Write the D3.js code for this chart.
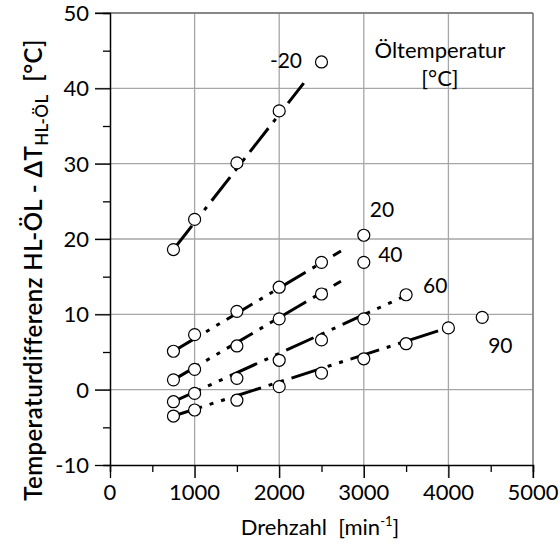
<!DOCTYPE html>
<html>
<head>
<meta charset="utf-8">
<script src="https://cdn.jsdelivr.net/npm/d3@7"></script>
<style>
  body { margin: 0; background: #fff; }
  svg text { font-family: Lato, "Open Sans", sans-serif; fill: #000; white-space: pre; }
</style>
</head>
<body>
<script>

// speeds [min^-1] at which the points were measured
const speeds = [750, 1000, 1500, 2000, 2500, 3000, 3500, 4000, 4400];

// oil temperatures [°C], one curve per temperature
const oilTemps = ["-20", "20", "40", "60", "90"];

// measured temperature difference per oil temperature (null = not measured)
const dT_m20 = [18.6, 22.6, 30.1, 37.0, 43.5, null, null, null, null];
const dT_20  = [5.1, 7.3, 10.4, 13.6, 16.9, 20.5, null, null, null];
const dT_40  = [1.3, 2.7, 5.8, 9.4, 12.7, 16.9, null, null, null];
const dT_60  = [-1.6, -0.5, 1.5, 3.9, 6.6, 9.4, 12.6, null, null];
const dT_90  = [-3.5, -2.7, -1.4, 0.4, 2.2, 4.1, 6.1, 8.2, 9.6];

// fitted lines: start and end point [speed, dT]
const fitStart = [[750, 18.6], [750, 5.1], [750, 1.3], [750, -1.6], [750, -3.5]];
const fitEnd   = [[2290, 40.7], [2730, 18.4], [2730, 14.4], [3460, 12.3], [4100, 8.6]];

// axis ticks
const xTicks = [0, 1000, 2000, 3000, 4000, 5000];
const yTicks = [-10, 0, 10, 20, 30, 40, 50];

const series = [dT_m20, dT_20, dT_40, dT_60, dT_90];

// dimensions
const WIDTH = 560;
const HEIGHT = 551;
const MARGIN = {top: 13, bottom: 86, left: 110, right: 27};

const SVG = d3.select('body')
              .append('svg')
              .attr('width', WIDTH)
              .attr('height', HEIGHT);

const xScale = d3.scaleLinear()
                 .domain([0, 5000])
                 .range([MARGIN.left, WIDTH - MARGIN.right]);

const yScale = d3.scaleLinear()
                 .domain([-10, 50])
                 .range([HEIGHT - MARGIN.bottom, MARGIN.top]);

const x0 = xScale(0), x1 = xScale(5000);
const y0 = yScale(-10), y1 = yScale(50);

// grid lines
SVG.append('g')
   .selectAll('line')
   .data(xTicks.slice(1))
   .enter()
   .append('line')
   .attr('x1', d => xScale(d))
   .attr('x2', d => xScale(d))
   .attr('y1', y1)
   .attr('y2', y0 + 13)
   .attr('stroke', '#a6a6a6')
   .attr('stroke-width', 1.3);

SVG.append('g')
   .selectAll('line')
   .data(yTicks.slice(1))
   .enter()
   .append('line')
   .attr('x1', x0 - 15)
   .attr('x2', x1)
   .attr('y1', d => yScale(d))
   .attr('y2', d => yScale(d))
   .attr('stroke', '#a6a6a6')
   .attr('stroke-width', 1.3);

// darker top and right frame
SVG.append('line')
   .attr('x1', x0 - 15).attr('x2', x1)
   .attr('y1', y1).attr('y2', y1)
   .attr('stroke', '#777').attr('stroke-width', 1.3);
SVG.append('line')
   .attr('x1', x1).attr('x2', x1)
   .attr('y1', y1).attr('y2', y0 + 13)
   .attr('stroke', '#777').attr('stroke-width', 1.3);

// axes with major ticks outside, minor ticks half length
const xAxis = d3.axisBottom(xScale)
                .tickValues(d3.range(0, 5001, 500))
                .tickSize(7)
                .tickFormat('');
SVG.append('g')
   .attr('transform', 'translate(0,' + y0 + ')')
   .call(xAxis)
   .call(g => g.select('.domain').attr('stroke', '#000').attr('stroke-width', 1.5))
   .call(g => g.selectAll('.tick line').attr('stroke', '#000').attr('stroke-width', 1.3))
   .call(g => g.selectAll('.tick line').filter(d => d % 1000 === 0).attr('y2', 13));

const yAxis = d3.axisLeft(yScale)
                .tickValues(d3.range(-10, 51, 5))
                .tickSize(7)
                .tickFormat('');
SVG.append('g')
   .attr('transform', 'translate(' + x0 + ',0)')
   .call(yAxis)
   .call(g => g.select('.domain').attr('stroke', '#000').attr('stroke-width', 1.5))
   .call(g => g.selectAll('.tick line').attr('stroke', '#000').attr('stroke-width', 1.3))
   .call(g => g.selectAll('.tick line').filter(d => d % 10 === 0).attr('x2', -15));

// tick labels
SVG.append('g')
   .selectAll('text')
   .data(xTicks)
   .enter()
   .append('text')
   .attr('x', d => xScale(d))
   .attr('y', y0 + 35)
   .attr('text-anchor', 'middle')
   .style('font-size', '22px')
   .text(d => d);

SVG.append('g')
   .selectAll('text')
   .data(yTicks)
   .enter()
   .append('text')
   .attr('x', x0 - 21)
   .attr('y', d => yScale(d) + 8)
   .attr('text-anchor', 'end')
   .style('font-size', '22px')
   .text(d => d);

// fitted lines, dash-dot-dot
SVG.append('g')
   .selectAll('line')
   .data(oilTemps)
   .enter()
   .append('line')
   .attr('x1', (d, i) => xScale(fitStart[i][0]))
   .attr('y1', (d, i) => yScale(fitStart[i][1]))
   .attr('x2', (d, i) => xScale(fitEnd[i][0]))
   .attr('y2', (d, i) => yScale(fitEnd[i][1]))
   .attr('stroke', '#000')
   .attr('stroke-width', 3)
   .attr('stroke-dasharray', '30,8,4,8,4,8');

// measured points
series.forEach(vals => {
  SVG.append('g')
     .selectAll('circle')
     .data(speeds.map((s, i) => [s, vals[i]]).filter(d => d[1] !== null))
     .enter()
     .append('circle')
     .attr('cx', d => xScale(d[0]))
     .attr('cy', d => yScale(d[1]))
     .attr('r', 6)
     .attr('fill', '#fff')
     .attr('stroke', '#000')
     .attr('stroke-width', 1.2);
});

// curve labels
const labelAt = [[2080, 42.7, 'middle'], [3070, 22.9, 'start'], [3170, 16.9, 'start'],
                 [3700, 12.8, 'start'], [4470, 4.9, 'start']];
SVG.append('g')
   .selectAll('text')
   .data(oilTemps)
   .enter()
   .append('text')
   .attr('x', (d, i) => xScale(labelAt[i][0]))
   .attr('y', (d, i) => yScale(labelAt[i][1]))
   .attr('text-anchor', (d, i) => labelAt[i][2])
   .style('font-size', '21px')
   .text(d => d);

// legend title
SVG.append('text')
   .attr('x', xScale(3900))
   .attr('y', yScale(44))
   .attr('text-anchor', 'middle')
   .style('font-size', '22px')
   .text('Öltemperatur');
SVG.append('text')
   .attr('x', xScale(3900))
   .attr('y', yScale(40.3))
   .attr('text-anchor', 'middle')
   .style('font-size', '22px')
   .text('[°C]');

// x title
const xTitle = SVG.append('text')
   .attr('x', 320)
   .attr('y', 535)
   .attr('text-anchor', 'middle')
   .style('font-size', '22px');
xTitle.append('tspan').text('Drehzahl  [min');
xTitle.append('tspan').attr('dy', -9).style('font-size', '13px').text('-1');
xTitle.append('tspan').attr('dy', 9).text(']');

// y title
const yTitle = SVG.append('text')
   .attr('transform', 'translate(42,270) rotate(-90)')
   .attr('text-anchor', 'middle')
   .style('font-size', '24px')
   .style('font-weight', '600')
   .style('letter-spacing', '0.4px');
yTitle.append('tspan').text('Temperaturdifferenz HL-ÖL - ΔT');
yTitle.append('tspan').attr('dy', 6).style('font-size', '17px').text('HL-ÖL');
yTitle.append('tspan').attr('dy', -6).text('  [°C]');

</script>
</body>
</html>
